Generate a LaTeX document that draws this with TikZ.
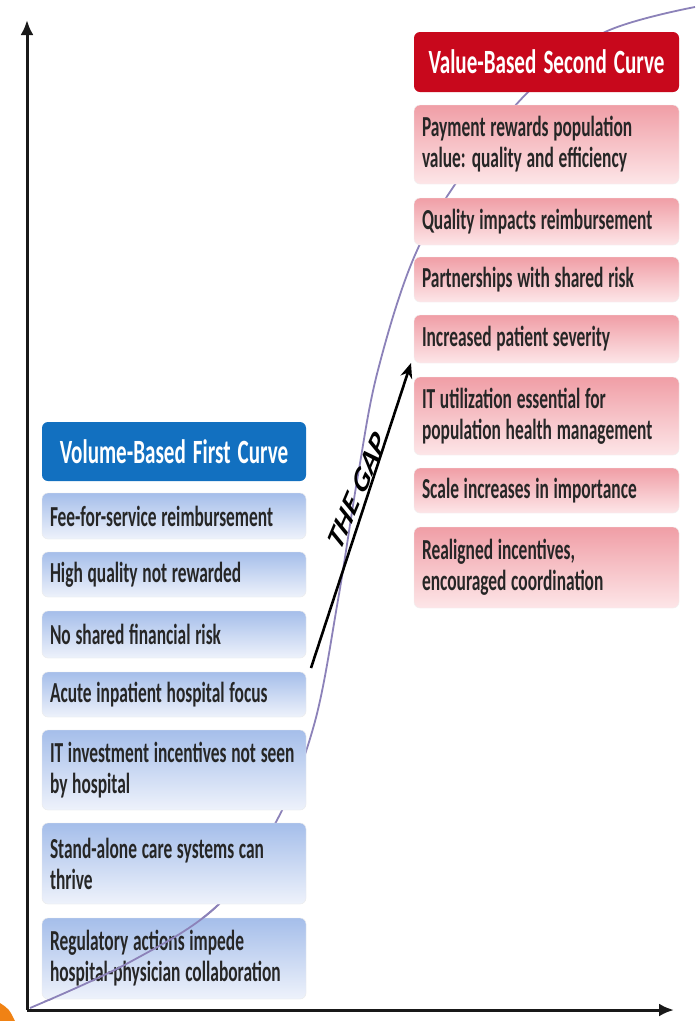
\documentclass[tikz,border=0pt]{standalone}
\usepackage{fontspec}
\usetikzlibrary{arrows.meta}
\newfontfamily\boxfont[FakeStretch=0.6, WordSpace=1.2]{Carlito}
\newfontfamily\hdrfont[FakeStretch=0.62, WordSpace=1.5]{Carlito}
\newfontfamily\gapfont{Carlito}
\definecolor{hdrblue}{RGB}{18,112,192}
\definecolor{lbtop}{RGB}{165,190,234}
\definecolor{lbbot}{RGB}{238,242,251}
\definecolor{hdrred}{RGB}{200,8,28}
\definecolor{rbtop}{RGB}{240,158,166}
\definecolor{rbbot}{RGB}{253,230,232}
\definecolor{curvecol}{RGB}{140,130,185}
\definecolor{orng}{RGB}{240,130,20}
\begin{document}
\begin{tikzpicture}[x=1pt,y=-1pt,
  box/.style={rounded corners=6pt, inner xsep=8pt, inner ysep=0pt, align=flush left,
    font=\boxfont\bfseries\fontsize{29}{31}\selectfont, text=black!85},
  lbox/.style={box, minimum width=264pt, text width=248pt, top color=lbtop, bottom color=lbbot, draw=black!8},
  rbox/.style={box, minimum width=265pt, text width=249pt, top color=rbtop, bottom color=rbbot, draw=black!6},
  hbox/.style={rounded corners=6pt, align=center, text=white, inner sep=0pt,
    font=\hdrfont\bfseries\fontsize{34}{36}\selectfont},
  axisline/.style={line width=3pt, black!90, -{Latex[length=15pt,width=13pt]}},
  gaparrow/.style={line width=2.6pt, black, -{Stealth[length=15pt,width=12pt]}},
  scurve/.style={line width=1.8pt, curvecol}]
\useasboundingbox (0,0) rectangle (698,1021);
\fill[white] (0,0) rectangle (698,1021);

% S-curve (behind boxes)
\draw[scurve] plot[smooth, tension=0.6] coordinates {(30,1008) (130,962) (218,905) (276,822) (314,725) (338,600) (358,475) (378,370) (415,255) (465,170) (530,90) (603,33) (695,7)};

% axes
\coordinate (O) at (27,1010);
\coordinate (ytop) at (27,20);
\coordinate (xend) at (674,1010);
\draw[axisline] (O) -- (ytop);
\draw[axisline] (O) -- (xend);

% left column
\node[hbox, fill=hdrblue, minimum width=264pt, minimum height=59pt] (lh) at (174,451.5) {Volume-Based First Curve};
\node[lbox, minimum height=46pt] (l1) at (174,516) {Fee-for-service reimbursement};
\node[lbox, minimum height=45pt] (l2) at (174,574.5) {High quality not rewarded};
\node[lbox, minimum height=47pt] (l3) at (174,634.5) {No shared financial risk};
\node[lbox, minimum height=45pt] (l4) at (174,694.5) {Acute inpatient hospital focus};
\node[lbox, minimum height=80pt] (l5) at (174,770) {\mbox{IT investment incentives not seen}\\by hospital};
\node[lbox, minimum height=81pt] (l6) at (174,863.5) {Stand-alone care systems can\\thrive};
\node[lbox, minimum height=81pt] (l7) at (174,958.5) {Regulatory actions impede\\\mbox{hospital-physician collaboration}};

% right column
\node[hbox, fill=hdrred, minimum width=265pt, minimum height=60pt] (rh) at (546.5,62) {Value-Based Second Curve};
\node[rbox, minimum height=79pt] (r1) at (546.5,144.5) {Payment rewards population\\value: quality and efficiency};
\node[rbox, minimum height=47pt] (r2) at (546.5,221.5) {Quality impacts reimbursement};
\node[rbox, minimum height=45pt] (r3) at (546.5,279.5) {Partnerships with shared risk};
\node[rbox, minimum height=48pt] (r4) at (546.5,339) {Increased patient severity};
\node[rbox, minimum height=78pt] (r5) at (546.5,416) {IT utilization essential for\\\mbox{population health management}};
\node[rbox, minimum height=45pt] (r6) at (546.5,490.5) {Scale increases in importance};
\node[rbox, minimum height=81pt] (r7) at (546.5,567.5) {Realigned incentives,\\encouraged coordination};

% curve visible over the bottom box
\begin{scope}
\clip (42,905) rectangle (306,1000);
\draw[scurve] plot[smooth, tension=0.6] coordinates {(30,1008) (130,962) (218,905) (276,822) (314,725) (338,600) (358,475) (378,370) (415,255) (465,170) (530,90) (603,33) (695,7)};
\end{scope}

% the gap arrow
\coordinate (gs) at (311,668);
\coordinate (ge) at (411,363);
\draw[gaparrow] (gs) -- (ge);
\begin{scope}[shift={(357,491)}, xscale=0.67]
\node[rotate=57.6, transform shape, inner sep=0pt, font=\gapfont\bfseries\itshape\fontsize{36}{38}\selectfont] (gap) {THE GAP};
\end{scope}

% orange corner fragment
\fill[orng] (0,1003) .. controls (9,1009) .. (15,1021) -- (0,1021) -- cycle;
\end{tikzpicture}
\end{document}
